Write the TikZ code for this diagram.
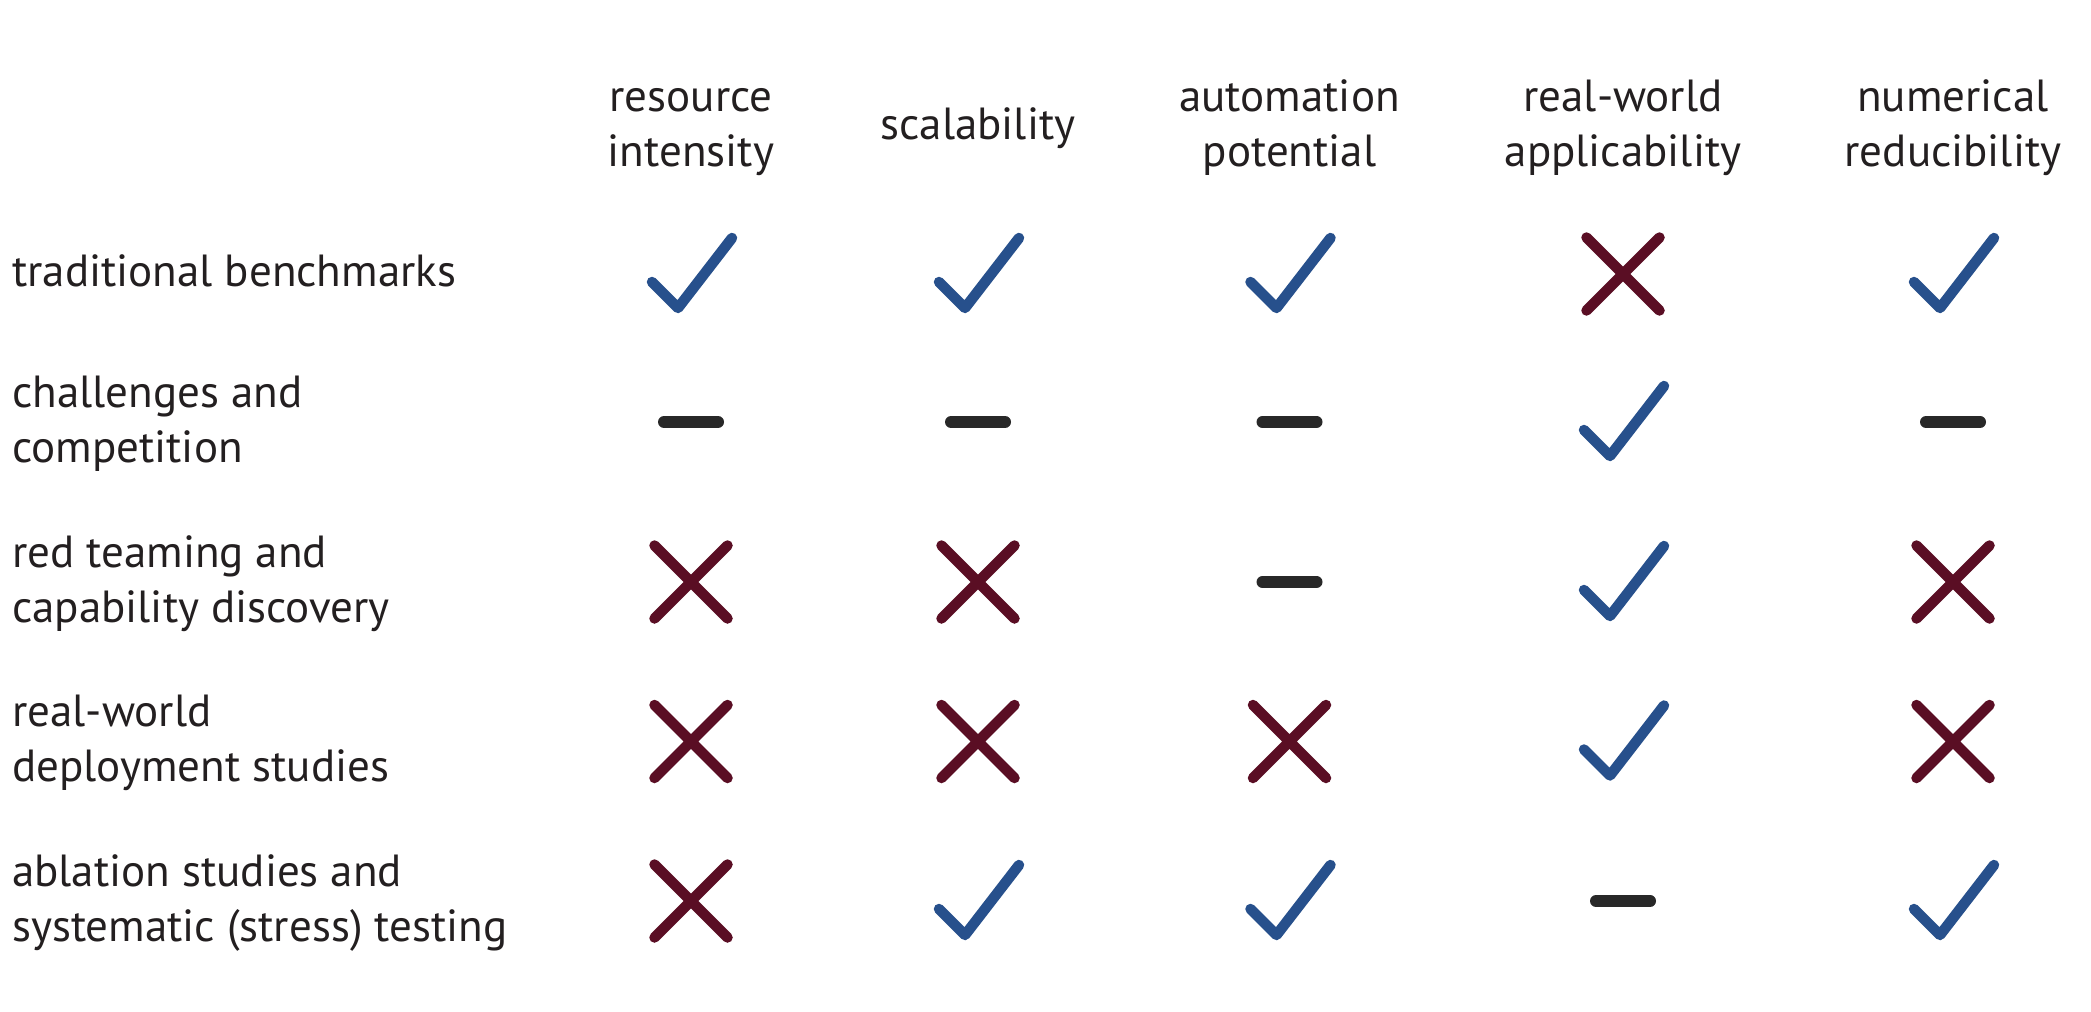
\documentclass[tikz,border=0pt]{standalone}
\usepackage{fontspec}
\setmainfont{PT Sans}
\definecolor{txtcol}{HTML}{231F20}
\definecolor{chkblue}{HTML}{27508C}
\definecolor{crsred}{HTML}{5A0E24}
\definecolor{dshgray}{HTML}{282828}
\tikzset{
  lbl/.style={inner sep=0pt, text=txtcol, font=\fontsize{45}{55}\selectfont},
  hdr/.style={lbl, anchor=base},
  rowlbl/.style={lbl, anchor=base west},
  chk/.pic={\draw[chkblue, line width=10.5pt, line cap=round, line join=round] (-39,8) -- (-13,34) -- (41,-36);},
  crs/.pic={\draw[crsred, line width=10.5pt, line cap=round] (-36.5,-36.5) -- (36.5,36.5) (-36.5,36.5) -- (36.5,-36.5);},
  dsh/.pic={\draw[dshgray, line width=12pt, line cap=round] (-27,0) -- (27,0);},
}
\newcommand{\twoc}[2]{\begin{tabular}[t]{@{}c@{}}#1\\#2\end{tabular}}
\newcommand{\twol}[2]{\begin{tabular}[t]{@{}l@{}}#1\\#2\end{tabular}}
\begin{document}
\begin{tikzpicture}[x=1pt, y=-1pt]
\useasboundingbox[fill=white] (0,0) rectangle (2091,1012);
% column headers
\node[hdr] (h1) at (691,111) {\twoc{resource}{intensity}};
\node[hdr] (h2) at (978,139) {scalability};
\node[hdr] (h3) at (1289.5,111) {\twoc{automation}{potential}};
\node[hdr] (h4) at (1623,111) {\twoc{real-world}{applicability}};
\node[hdr] (h5) at (1953,111) {\twoc{numerical}{reducibility}};
% row labels
\node[rowlbl] (r1) at (12,286) {traditional benchmarks};
\node[rowlbl] (r2) at (12,407) {\twol{challenges and}{competition}};
\node[rowlbl] (r3) at (12,567) {\twol{red teaming and}{capability discovery}};
\node[rowlbl] (r4) at (12,726.5) {\twol{real-world}{deployment studies}};
\node[rowlbl] (r5) at (12,886) {\twol{ablation studies and}{systematic (stress) testing}};
% row 1
\pic (m11) at (691,274) {chk};
\pic (m12) at (978,274) {chk};
\pic (m13) at (1289.5,274) {chk};
\pic (m14) at (1623,274) {crs};
\pic (m15) at (1953,274) {chk};
% row 2
\pic (m21) at (691,422) {dsh};
\pic (m22) at (978,422) {dsh};
\pic (m23) at (1289.5,422) {dsh};
\pic (m24) at (1623,422) {chk};
\pic (m25) at (1953,422) {dsh};
% row 3
\pic (m31) at (691,582) {crs};
\pic (m32) at (978,582) {crs};
\pic (m33) at (1289.5,582) {dsh};
\pic (m34) at (1623,582) {chk};
\pic (m35) at (1953,582) {crs};
% row 4
\pic (m41) at (691,741.5) {crs};
\pic (m42) at (978,741.5) {crs};
\pic (m43) at (1289.5,741.5) {crs};
\pic (m44) at (1623,741.5) {chk};
\pic (m45) at (1953,741.5) {crs};
% row 5
\pic (m51) at (691,901) {crs};
\pic (m52) at (978,901) {chk};
\pic (m53) at (1289.5,901) {chk};
\pic (m54) at (1623,901) {dsh};
\pic (m55) at (1953,901) {chk};
\end{tikzpicture}
\end{document}
